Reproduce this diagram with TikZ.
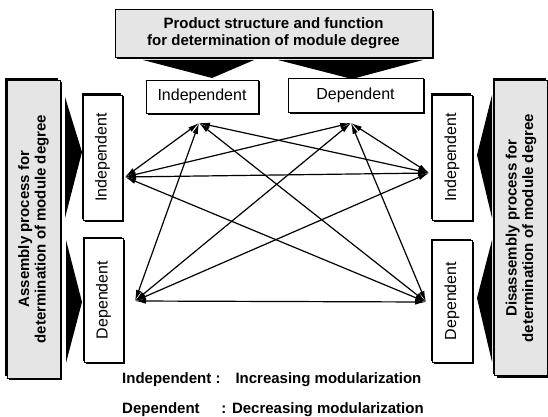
\documentclass[tikz,border=0pt]{standalone}
\usepackage{fontspec}
\setmainfont{Liberation Sans}
\usetikzlibrary{arrows.meta,shadows}

\begin{document}
\begin{tikzpicture}[x=1pt,y=-1pt,
    panel/.style={draw, fill=black!10, line width=0.6pt, align=center, inner sep=0pt,
      drop shadow={shadow xshift=2pt,shadow yshift=-2pt,fill=black,opacity=1},
      font=\fontsize{15}{16.5}\selectfont\bfseries},
    choice/.style={draw, fill=white, line width=0.6pt, inner sep=0pt,
      drop shadow={shadow xshift=1.5pt,shadow yshift=-1.5pt,fill=black,opacity=1},
      font=\fontsize{16}{18}\selectfont},
    upright/.style={rotate=90, drop shadow={shadow xshift=-#1,shadow yshift=#1,fill=black,opacity=1}},
    link/.style={{Latex[length=11pt,width=5.5pt]}-{Latex[length=11pt,width=5.5pt]}, line width=1.2pt},
    note/.style={anchor=west, inner sep=0pt, font=\fontsize{15}{17}\selectfont\bfseries}]
  \useasboundingbox (0,0) rectangle (548,417);

  % Wedges from the panels
  \fill (143,60) -- (254,60) -- (212,78) -- cycle;
  \fill (278,60) -- (423,60) -- (352,79) -- cycle;
  \fill (65,97) -- (82,152) -- (65,218) -- cycle;
  \fill (66,240) -- (82,302) -- (66,363) -- cycle;
  \fill (492,95) -- (477,155) -- (492,218) -- cycle;
  \fill (492,240) -- (477,298) -- (492,362) -- cycle;

  % Panels
  \node[panel, minimum width=317, minimum height=48] (prod) at (273.5,33)
    {Product structure and function\\for determination of module degree};
  \node[panel, upright=2pt, minimum width=298, minimum height=53] (asm) at (33.5,229)
    {Assembly process for\\determination of module degree};
  \node[panel, upright=2pt, minimum width=295, minimum height=53] (dis) at (521,228)
    {Disassembly process for\\determination of module degree};

  % Choices
  \node[choice, minimum width=112, minimum height=33] (tInd) at (202,96.5) {Independent};
  \node[choice, minimum width=135, minimum height=34] (tDep) at (355.5,95) {Dependent};
  \node[choice, upright=1.5pt, minimum width=125, minimum height=39] (lInd) at (102.5,157.5) {Independent};
  \node[choice, upright=1.5pt, minimum width=124, minimum height=39] (lDep) at (103.5,300) {Dependent};
  \node[choice, upright=1.5pt, minimum width=125, minimum height=40] (rInd) at (452,157.5) {Independent};
  \node[choice, upright=1.5pt, minimum width=122, minimum height=40] (rDep) at (452,301) {Dependent};

  % Arrow ends
  \coordinate (aTI) at (199,123);
  \coordinate (aTD) at (351,123);
  \coordinate (aLI) at (125,177);
  \coordinate (aLD) at (135,301);
  \coordinate (aRI) at (429,173);
  \coordinate (aRD) at (426,302);

  % Links
  \foreach \a/\b in {aTI/aLI,aTI/aLD,aTI/aRI,aTI/aRD,aTD/aLI,aTD/aLD,aTD/aRI,aTD/aRD,
                     aLI/aRI,aLI/aRD,aLD/aRI,aLD/aRD}
    \draw[link] (\a) -- (\b);

  % Key
  \node[note] (key1) at (122,380) {Independent :\hspace{1em}Increasing modularization};
  \node[note] (key2) at (122,410) {Dependent\hspace{1.45em}: Decreasing modularization};
\end{tikzpicture}
\end{document}
